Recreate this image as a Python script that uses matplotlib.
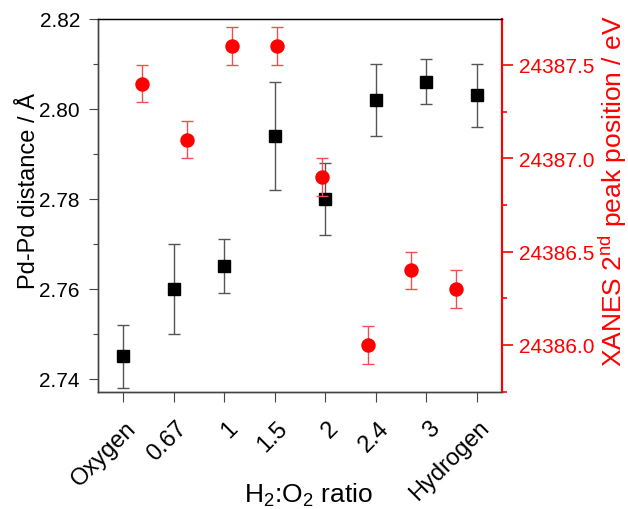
import matplotlib
matplotlib.use("Agg")
import matplotlib.pyplot as plt
from matplotlib.ticker import MultipleLocator, FormatStrFormatter
from matplotlib.transforms import ScaledTranslation

plt.rcParams['font.family'] = ['Liberation Sans', 'DejaVu Sans']
plt.rcParams['mathtext.fontset'] = 'custom'
plt.rcParams['mathtext.rm'] = 'Liberation Sans'
plt.rcParams['mathtext.it'] = 'Liberation Sans:italic'

categories = ["Oxygen", "0.67", "1", "1.5", "2", "2.4", "3", "Hydrogen"]
pd_dist = [2.745, 2.760, 2.765, 2.794, 2.780, 2.802, 2.806, 2.803]
pd_err = [0.007, 0.010, 0.006, 0.012, 0.008, 0.008, 0.005, 0.007]
xanes_x = [0.38, 1.27, 2.16, 3.04, 3.93, 4.84, 5.71, 6.60]
xanes = [24387.4, 24387.1, 24387.6, 24387.6, 24386.9, 24386.0, 24386.4, 24386.3]
xanes_err = [0.1, 0.1, 0.1, 0.1, 0.1, 0.1, 0.1, 0.1]

fig = plt.figure(figsize=(6.28, 5.10), dpi=100)
ax = fig.add_axes([0.156, 0.2294, 0.643, 0.7316])
ax2 = ax.twinx()

xs = list(range(len(categories)))
ax.errorbar(xs, pd_dist, yerr=pd_err, fmt='s', color='black', ms=8.6,
            ecolor='#555555', elinewidth=1.0, capsize=4, capthick=1.0, zorder=3)
ax2.errorbar(xanes_x, xanes, yerr=xanes_err, fmt='o', color='#FF0000', ms=9.4,
             ecolor='#F05050', elinewidth=1.0, capsize=4, capthick=1.0, zorder=3)

ax.set_xlim(-0.5, 7.5)
ax.set_ylim(2.7371, 2.82)
ax2.set_ylim(24385.748, 24387.746)

ax.yaxis.set_major_locator(MultipleLocator(0.02))
ax.yaxis.set_minor_locator(MultipleLocator(0.01))
ax.yaxis.set_major_formatter(FormatStrFormatter('%.2f'))
ax2.yaxis.set_major_locator(MultipleLocator(0.5))
ax2.yaxis.set_minor_locator(MultipleLocator(0.25))
ax2.yaxis.set_major_formatter(FormatStrFormatter('%.1f'))

ax.tick_params(axis='y', which='major', direction='out', length=6.5, width=0.8,
               labelsize=15, color='#444444', pad=6.5)
ax.tick_params(axis='y', which='minor', direction='out', length=3.6, width=0.8, color='#444444')
ax.tick_params(axis='x', which='major', direction='out', length=7.2, width=0.8,
               labelsize=17, color='#444444', pad=19)
ax2.tick_params(axis='y', which='major', direction='out', length=8, width=1.2,
                labelsize=15, color='#FF0000', labelcolor='#FF0000', pad=4.3)
ax2.tick_params(axis='y', which='minor', direction='out', length=3.6, width=1.2, color='#FF0000')

ax.set_xticks(xs)
ax.set_xticklabels(categories, rotation=45, ha='right', va='baseline',
                   rotation_mode='anchor')
offset = ScaledTranslation(14 / 100, 0, fig.dpi_scale_trans)
for lab in ax.xaxis.get_majorticklabels():
    lab.set_transform(lab.get_transform() + offset)

for a in (ax, ax2):
    a.spines['left'].set_color('#444444')
    a.spines['left'].set_linewidth(1.0)
    a.spines['bottom'].set_color('#444444')
    a.spines['bottom'].set_linewidth(1.0)
    a.spines['top'].set_color('black')
    a.spines['top'].set_linewidth(0.9)
    a.spines['right'].set_color('#FF0000')
    a.spines['right'].set_linewidth(1.5)

ax.set_ylabel('Pd-Pd distance / Å', fontsize=17)
ax.yaxis.set_label_coords(-0.156, 0.5416)
ax.yaxis.label.set_va('baseline')

ax.set_xlabel(r'$\mathregular{H_2}$:$\mathregular{O_2}$ ratio', fontsize=19)
ax.xaxis.set_label_coords(0.52, -0.295)
ax.xaxis.label.set_va('baseline')

ax2.set_ylabel(r'XANES 2$\mathregular{^{nd}}$ peak position / eV', fontsize=19,
               color='#FF0000')
ax2.yaxis.set_label_coords(1.2985, 0.5416)
ax2.yaxis.label.set_va('baseline')

fig.savefig('out.png', dpi=100)
